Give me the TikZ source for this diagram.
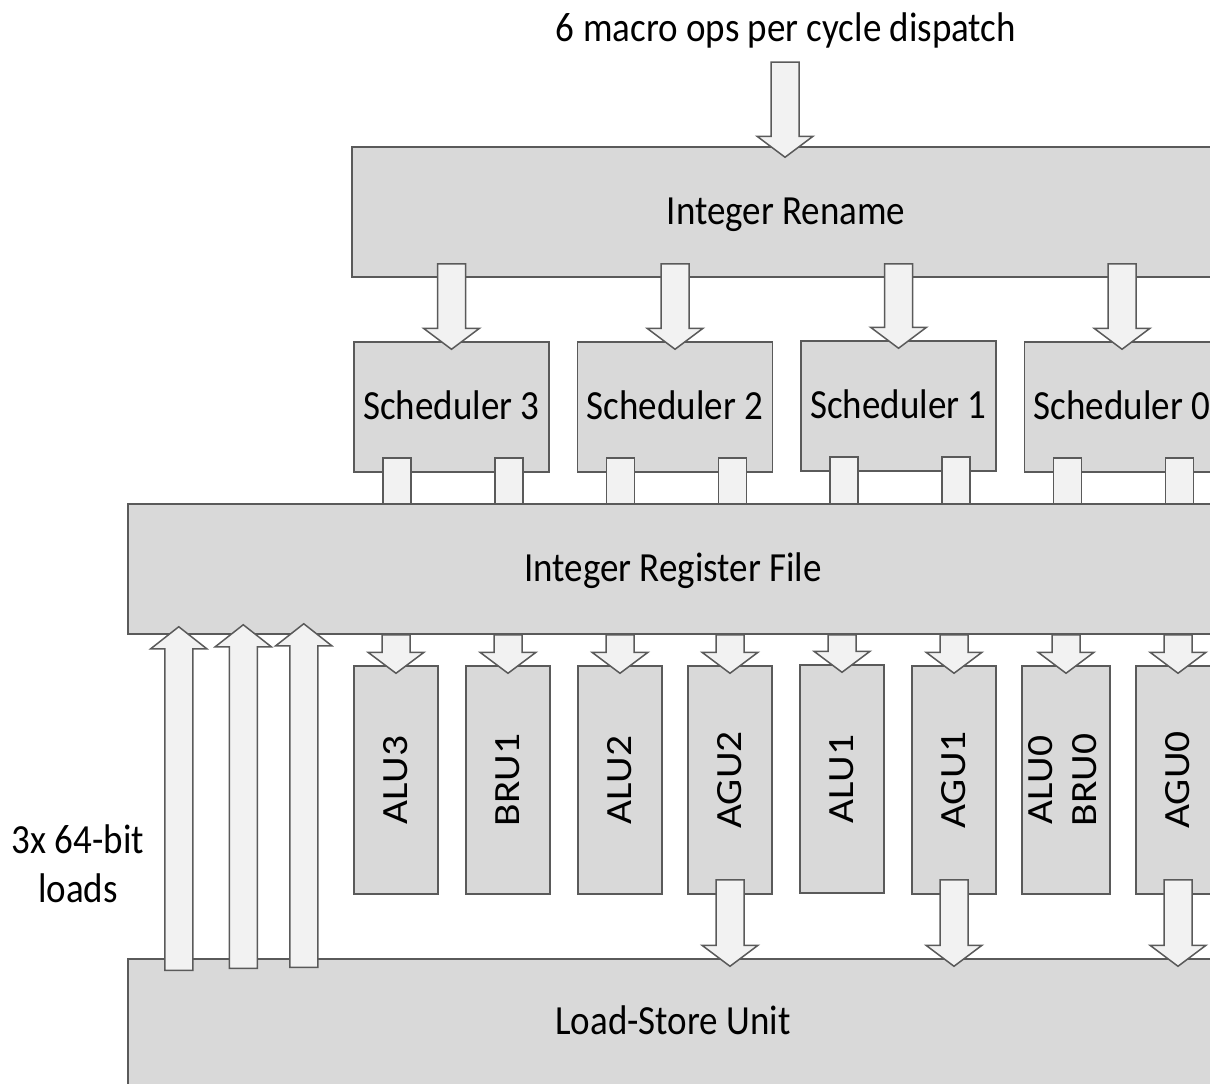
\documentclass[tikz,border=0pt]{standalone}
\usepackage{fontspec}
\setmainfont{Carlito}
\usepackage{graphicx}
\usetikzlibrary{calc}
\definecolor{boxfill}{HTML}{D9D9D9}
\definecolor{boxline}{HTML}{5A5A5A}
\definecolor{arrfill}{HTML}{F2F2F2}
\newcommand{\tx}[1]{\scalebox{1}[1.12]{\rule[-7pt]{0pt}{36.3pt}#1}}
\newcommand{\vx}[1]{\scalebox{1.12}[1]{#1}}
\newcommand{\downblock}[4]{%
  \path[blockarrow] let \p3=(#1), \p1=#3, \p2=#4 in
  (\x3#2-14pt,\y1) -- (\x3#2+14pt,\y1) -- (\x3#2+14pt,\y2+21pt) -- (\x3#2+28pt,\y2+21pt)
  -- (\x3#2,\y2) -- (\x3#2-28pt,\y2+21pt) -- (\x3#2-14pt,\y2+21pt) -- cycle;}
\newcommand{\upblock}[4]{%
  \path[blockarrow] let \p3=(#1), \p1=#3, \p2=#4 in
  (\x3#2-14pt,\y1) -- (\x3#2+14pt,\y1) -- (\x3#2+14pt,\y2-22pt) -- (\x3#2+28pt,\y2-22pt)
  -- (\x3#2,\y2) -- (\x3#2-28pt,\y2-22pt) -- (\x3#2-14pt,\y2-22pt) -- cycle;}
\newcommand{\portblock}[4]{%
  \path[blockarrow] let \p3=(#1), \p1=#3, \p2=#4 in
  (\x3#2-14pt,\y1) rectangle (\x3#2+14pt,\y2);}
\tikzset{
  unitbox/.style={draw=boxline, fill=boxfill, line width=1.5pt, inner sep=0pt,
    font=\fontsize{37}{44}\selectfont},
  execbox/.style={unitbox, minimum width=84, minimum height=228},
  schedbox/.style={unitbox, minimum width=195, minimum height=130},
  blockarrow/.style={draw=boxline, fill=arrfill, line width=1.5pt, line join=miter},
  plain/.style={inner sep=0pt, font=\fontsize{37}{49}\selectfont, align=center},
}
\begin{document}
\begin{tikzpicture}[x=1pt, y=-1pt]
\useasboundingbox (0,0) rectangle (1210,1084);
\clip (0,0) rectangle (1210,1084);
% title
\node[plain, anchor=base] (title) at (786,41) {\tx{6 macro ops per cycle dispatch}};
% boxes
\node[unitbox, minimum width=868, minimum height=130] (rename) at (786,212) {\tx{Integer Rename}};
\node[schedbox] (sched3) at (451.5,407) {\tx{Scheduler 3}};
\node[schedbox] (sched2) at (675,407) {\tx{Scheduler 2}};
\node[schedbox] (sched1) at (898.5,406) {\tx{Scheduler 1}};
\node[schedbox] (sched0) at (1122,407) {\tx{Scheduler 0}};
\node[unitbox, minimum width=1090, minimum height=130] (rf) at (673,569) {\tx{Integer Register File}};
\node[execbox] (alu3) at (396,780) {\rotatebox{90}{\vx{ALU3}}};
\node[execbox] (bru1) at (508,780) {\rotatebox{90}{\vx{BRU1}}};
\node[execbox] (alu2) at (620,780) {\rotatebox{90}{\vx{ALU2}}};
\node[execbox] (agu2) at (730,780) {\rotatebox{90}{\vx{AGU2}}};
\node[execbox] (alu1) at (842,779) {\rotatebox{90}{\vx{ALU1}}};
\node[execbox] (agu1) at (954,780) {\rotatebox{90}{\vx{AGU1}}};
\node[execbox] (alu0) at (1066,780) {\rotatebox{90}{\begin{tabular}{@{}c@{}}\vx{ALU0}\\\vx{BRU0}\end{tabular}}};
\node[execbox] (agu0) at (1178,780) {\rotatebox{90}{\vx{AGU0}}};
\node[unitbox, minimum width=1090, minimum height=126] (lsu) at (673,1022) {\tx{Load-Store Unit}};
\node[plain] (loads) at (78,866) {\tx{3x 64-bit}\\\tx{loads}};
% dispatch arrow
\downblock{title.base}{-1pt}{($(title.base)+(0,21)$)}{($(rename.north)+(0,11)$)}
% rename -> schedulers
\foreach \s in {sched3,sched2,sched1,sched0}{
  \downblock{\s.north}{+0pt}{($(rename.south)+(0,-14)$)}{($(\s.north)+(0,8)$)}
  \portblock{\s.south}{-54.5pt}{($(\s.south)+(0,-15)$)}{(rf.north)}
  \portblock{\s.south}{+57.5pt}{($(\s.south)+(0,-15)$)}{(rf.north)}
}
% register file -> execution units
\foreach \e in {alu3,bru1,alu2,agu2,alu1,agu1,alu0,agu0}{
  \downblock{\e.north}{+0pt}{(rf.south)}{($(\e.north)+(0,8)$)}
}
% AGUs -> load-store unit
\foreach \a in {agu2,agu1,agu0}{
  \downblock{\a.south}{+0pt}{($(\a.south)+(0,-15)$)}{($(lsu.north)+(0,8)$)}
}
% loads
\upblock{lsu.north west}{+51.5pt}{($(lsu.north)+(0,12)$)}{($(rf.south)+(0,-8)$)}
\upblock{lsu.north west}{+116pt}{($(lsu.north)+(0,10)$)}{($(rf.south)+(0,-10)$)}
\upblock{lsu.north west}{+176.5pt}{($(lsu.north)+(0,9)$)}{($(rf.south)+(0,-11)$)}
\end{tikzpicture}
\end{document}
